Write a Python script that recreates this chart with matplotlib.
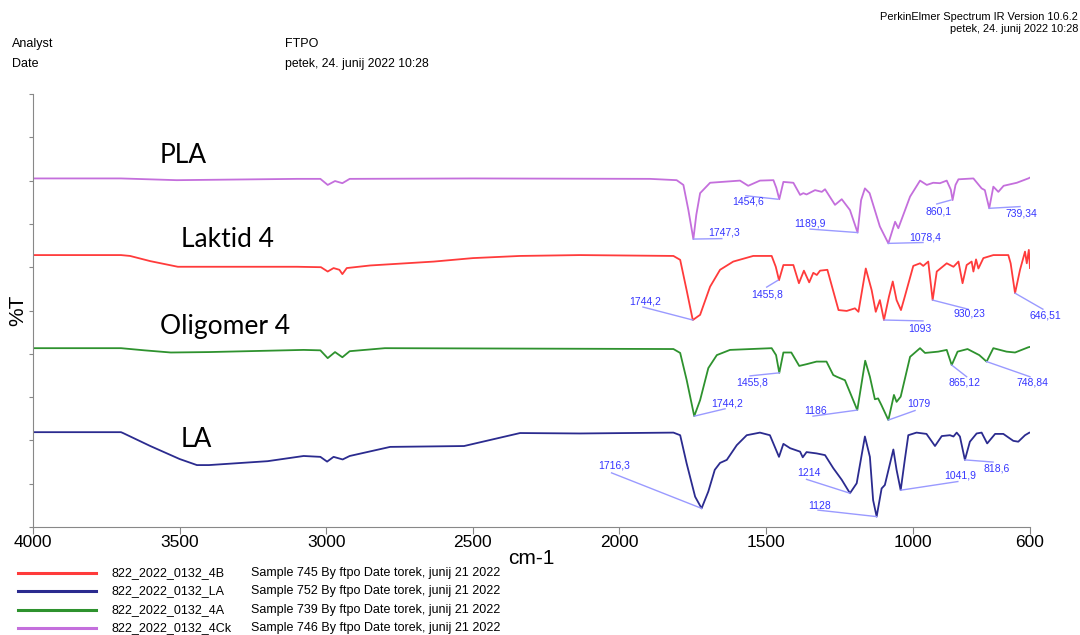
import matplotlib.pyplot as plt
from matplotlib.lines import Line2D

plt.rcParams['font.family'] = ['Liberation Sans', 'DejaVu Sans']

# valovna števila (cm-1) in %T (zamaknjeno) za vsak vzorec
pla_wn = [4000, 3700, 3510, 3100, 3020, 2995, 2970, 2945, 2920, 2500, 1896, 1805, 1782, 1765, 1748, 1738, 1725,
          1691, 1589, 1561, 1521, 1475, 1465, 1455, 1441, 1407, 1384, 1373, 1362, 1333, 1310, 1299, 1265, 1242,
          1214, 1188, 1176, 1163, 1147, 1112, 1083, 1060, 1049, 1009, 975, 952, 930, 907, 884, 870, 864, 854,
          844, 793, 765, 754, 739, 725, 708, 690, 645, 606, 600]
pla_t = [80.5, 80.5, 80.1, 80.4, 80.4, 79.0, 79.9, 79.4, 80.4, 80.5, 80.4, 80.1, 79.0, 73.2, 66.5, 72.1, 77.1,
         79.5, 80.0, 78.8, 80.0, 80.1, 78.3, 75.7, 79.7, 79.5, 76.7, 77.1, 76.8, 77.8, 77.4, 78.0, 74.4, 75.7,
         73.2, 68.0, 75.5, 78.2, 77.1, 69.4, 65.5, 70.5, 69.0, 76.3, 80.0, 79.0, 79.5, 79.4, 80.0, 77.9, 75.5, 79.0,
         80.3, 80.5, 78.2, 77.8, 73.6, 78.6, 77.4, 78.8, 79.5, 80.5, 80.7]

lak_wn = [4000, 3700, 3669, 3600, 3506, 3100, 3018, 2995, 2975, 2955, 2945, 2930, 2850, 2633, 2500, 2339, 2135,
          1816, 1793, 1771, 1750, 1725, 1691, 1657, 1612, 1544, 1481, 1467, 1456, 1441, 1407, 1388, 1371, 1353,
          1339, 1327, 1316, 1291, 1253, 1225, 1197, 1185, 1160, 1140, 1126, 1112, 1098, 1081, 1068, 1055, 1040,
          1027, 998, 975, 964, 947, 932, 918, 884, 861, 844, 830, 816, 799, 793, 784, 776, 759, 725, 674, 666,
          651, 634, 617, 611, 604, 600]
lak_t = [62.8, 62.8, 62.6, 61.4, 60.1, 60.1, 60.0, 59.0, 59.8, 59.4, 58.4, 59.8, 60.4, 61.3, 62.1, 62.6, 62.8,
         62.6, 61.7, 54.7, 47.8, 49.0, 55.5, 59.4, 61.3, 62.6, 62.6, 60.1, 57.0, 60.5, 60.5, 56.3, 59.2, 56.5,
         58.7, 58.2, 59.2, 59.4, 50.1, 49.9, 50.5, 49.7, 59.7, 54.7, 49.7, 52.4, 47.8, 53.2, 56.7, 52.4, 50.1,
         53.2, 60.3, 60.9, 60.3, 61.3, 52.4, 59.0, 60.9, 60.1, 61.3, 56.3, 60.5, 61.3, 59.0, 61.8, 59.7, 62.1,
         62.8, 62.8, 60.9, 54.0, 59.4, 63.6, 60.9, 64.0, 59.8]

oli_wn = [4000, 3700, 3620, 3530, 3400, 3077, 3020, 2995, 2970, 2945, 2920, 2800, 1816, 1793, 1771, 1745, 1725,
          1697, 1668, 1623, 1481, 1466, 1455, 1441, 1414, 1387, 1362, 1328, 1294, 1271, 1259, 1231, 1189, 1162,
          1146, 1129, 1118, 1107, 1083, 1064, 1055, 1041, 1009, 975, 958, 913, 884, 867, 847, 813, 773, 748,
          725, 680, 651, 606, 600]
oli_t = [41.3, 41.3, 40.8, 40.3, 40.4, 40.9, 40.8, 39.0, 40.4, 39.2, 40.6, 41.3, 41.1, 40.2, 34.0, 25.6, 29.3,
         36.7, 39.7, 40.9, 41.3, 39.7, 35.6, 40.3, 40.3, 37.2, 37.6, 38.2, 38.2, 35.1, 34.7, 33.9, 27.0, 38.4,
         34.7, 29.5, 29.7, 28.2, 24.7, 30.5, 28.9, 30.1, 39.3, 41.3, 40.2, 40.5, 40.9, 37.4, 40.5, 41.1, 39.7, 38.2,
         41.3, 40.5, 40.3, 41.5, 41.6]

la_wn = [4000, 3700, 3693, 3600, 3500, 3441, 3400, 3200, 3077, 3020, 2997, 2975, 2944, 2920, 2782, 2530, 2339,
         2135, 1816, 1793, 1771, 1742, 1720, 1697, 1675, 1657, 1634, 1600, 1566, 1521, 1487, 1456, 1441, 1418,
         1384, 1375, 1362, 1328, 1299, 1271, 1242, 1214, 1191, 1163, 1146, 1135, 1123, 1106, 1095, 1066, 1055,
         1041, 1027, 1015, 987, 953, 924, 901, 873, 861, 850, 839, 822, 805, 782, 765, 746, 719, 691, 657, 640,
         617, 602, 600]
la_t = [21.9, 21.9, 21.7, 18.7, 15.7, 14.3, 14.3, 15.2, 16.4, 16.2, 15.1, 16.2, 15.6, 16.4, 18.5, 18.7, 21.7,
        21.6, 21.8, 21.2, 14.7, 7.0, 4.3, 8.2, 13.2, 14.8, 15.5, 18.9, 21.2, 21.8, 21.2, 16.2, 19.2, 18.2,
        17.4, 16.1, 17.3, 17.0, 16.6, 13.6, 10.9, 7.8, 10.1, 20.9, 16.2, 6.2, 2.4, 8.9, 9.7, 17.9, 13.2,
        8.5, 15.5, 21.2, 21.8, 21.5, 18.7, 21.0, 21.2, 20.9, 21.8, 20.9, 15.5, 19.7, 21.6, 21.8, 19.3, 21.5, 21.5,
        19.9, 19.7, 21.2, 21.8, 21.8]

# oznake vrhov: (valovno število vrha, %T vrha, besedilo)
pla_peaks = [(1748, 66.5, '1747,3'), (1460, 75.7, '1454,6'), (1188, 68.0, '1189,9'),
             (1083, 65.5, '1078,4'), (870, 75.5, '860,1'), (739, 73.6, '739,34')]
lak_peaks = [(1750, 47.8, '1744,2'), (1459, 57.0, '1455,8'), (1098, 47.8, '1093'),
             (932, 52.4, '930,23'), (651, 54.0, '646,51')]
oli_peaks = [(1745, 25.6, '1744,2'), (1455, 35.6, '1455,8'), (1189, 27.0, '1186'),
             (1083, 24.7, '1079'), (867, 37.4, '865,12'), (748, 38.2, '748,84')]
la_peaks = [(1720, 4.3, '1716,3'), (1214, 7.8, '1214'), (1123, 2.4, '1128'),
            (1041, 8.5, '1041,9'), (822, 15.5, '818,6')]

# postavitev oznak: (konec črte x, y, središče besedila x, y)
pla_pos = [(1651, 66.6, 1643, 68.1), (1569, 76.5, 1560, 75.1), (1350, 68.8, 1349, 70.2),
           (965, 65.7, 958, 66.8), (918, 74.6, 912, 72.8), (634, 74.0, 629, 72.5)]
lak_pos = [(1920, 50.8, 1913, 52.0), (1498, 55.4, 1495, 53.8), (965, 47.6, 977, 45.7),
           (811, 50.3, 806, 49.2), (556, 50.3, 549, 48.8)]
oli_pos = [(1640, 27.3, 1632, 28.6), (1555, 34.9, 1546, 33.3), (1340, 25.6, 1333, 26.8),
           (992, 26.9, 980, 28.4), (816, 34.7, 823, 33.3), (600, 34.7, 592, 33.3)]
la_pos = [(2027, 12.5, 2019, 14.1), (1362, 11.0, 1354, 12.5), (1323, 3.9, 1318, 4.8),
          (846, 10.5, 839, 11.8), (726, 15.0, 714, 13.6)]

fig = plt.figure(figsize=(10.8, 6.35), dpi=100)
ax = fig.add_axes([33 / 1080, 1 - 527 / 635, 997 / 1080, 433 / 635])

c_red = '#ff3b3b'
c_navy = '#2b2b8f'
c_green = '#2e922e'
c_violet = '#c46fdc'

ax.plot(pla_wn, pla_t, color=c_violet, lw=1.3)
ax.plot(lak_wn, lak_t, color=c_red, lw=1.3)
ax.plot(oli_wn, oli_t, color=c_green, lw=1.3)
ax.plot(la_wn, la_t, color=c_navy, lw=1.3)

for peaks, pos in [(pla_peaks, pla_pos), (lak_peaks, lak_pos), (oli_peaks, oli_pos), (la_peaks, la_pos)]:
    for (pw, pt, lab), (lx, ly, tx, ty) in zip(peaks, pos):
        ax.plot([pw, lx], [pt, ly], color='#9a9aff', lw=1, clip_on=False)
        ax.text(tx, ty, lab, color='#3535ff', fontsize=7.5, ha='center', va='center')

# imena vzorcev
name_font = ['Lato', 'DejaVu Sans']
ax.text(3567, 85.9, 'PLA', fontsize=19, family=name_font, va='center')
ax.text(3495, 66.3, 'Laktid 4', fontsize=19, family=name_font, va='center')
ax.text(3567, 46.2, 'Oligomer 4', fontsize=19, family=name_font, va='center')
ax.text(3495, 20.1, 'LA', fontsize=19, family=name_font, va='center')

ax.set_xlim(4000, 600)
ax.set_ylim(0, 100)
ax.set_xticks([4000, 3500, 3000, 2500, 2000, 1500, 1000, 600])
ax.set_yticks(range(0, 101, 10))
ax.set_yticklabels([])
ax.tick_params(axis='x', length=5, color='#888888', labelsize=12.5, pad=1)
ax.tick_params(axis='y', length=3, color='#888888')
for s in ['top', 'right']:
    ax.spines[s].set_visible(False)
for s in ['left', 'bottom']:
    ax.spines[s].set_color('#888888')
ax.set_xlabel('cm-1', fontsize=15, labelpad=-1)
ax.set_ylabel('%T', fontsize=15, va='center')
ax.yaxis.set_label_coords(-15 / 997, 0.5)

# glava
fig.text(12 / 1080, 1 - 44 / 635, 'Analyst', fontsize=9, va='center')
fig.text(12 / 1080, 1 - 64 / 635, 'Date', fontsize=9, va='center')
fig.text(285 / 1080, 1 - 44 / 635, 'FTPO', fontsize=9, va='center')
fig.text(285 / 1080, 1 - 64 / 635, 'petek, 24. junij 2022 10:28', fontsize=8.8, va='center')
fig.text(1078 / 1080, 1 - 17 / 635, 'PerkinElmer Spectrum IR Version 10.6.2', fontsize=7.9, va='center', ha='right')
fig.text(1078 / 1080, 1 - 29.5 / 635, 'petek, 24. junij 2022 10:28', fontsize=7.9, va='center', ha='right')

# legenda
leg_ids = ['822_2022_0132_4B', '822_2022_0132_LA', '822_2022_0132_4A', '822_2022_0132_4Ck']
leg_desc = ['Sample 745 By ftpo Date torek, junij 21 2022', 'Sample 752 By ftpo Date torek, junij 21 2022',
            'Sample 739 By ftpo Date torek, junij 21 2022', 'Sample 746 By ftpo Date torek, junij 21 2022']
leg_colors = [c_red, c_navy, c_green, c_violet]
for i in range(4):
    y = 1 - (573 + 18.3 * i) / 635
    fig.add_artist(Line2D([18 / 1080, 96 / 1080], [y, y], color=leg_colors[i], lw=2.2))
    fig.text(111 / 1080, y, leg_ids[i], fontsize=9, va='center')
    fig.text(251 / 1080, y, leg_desc[i], fontsize=9, va='center')

plt.savefig('out.png', dpi=100)
